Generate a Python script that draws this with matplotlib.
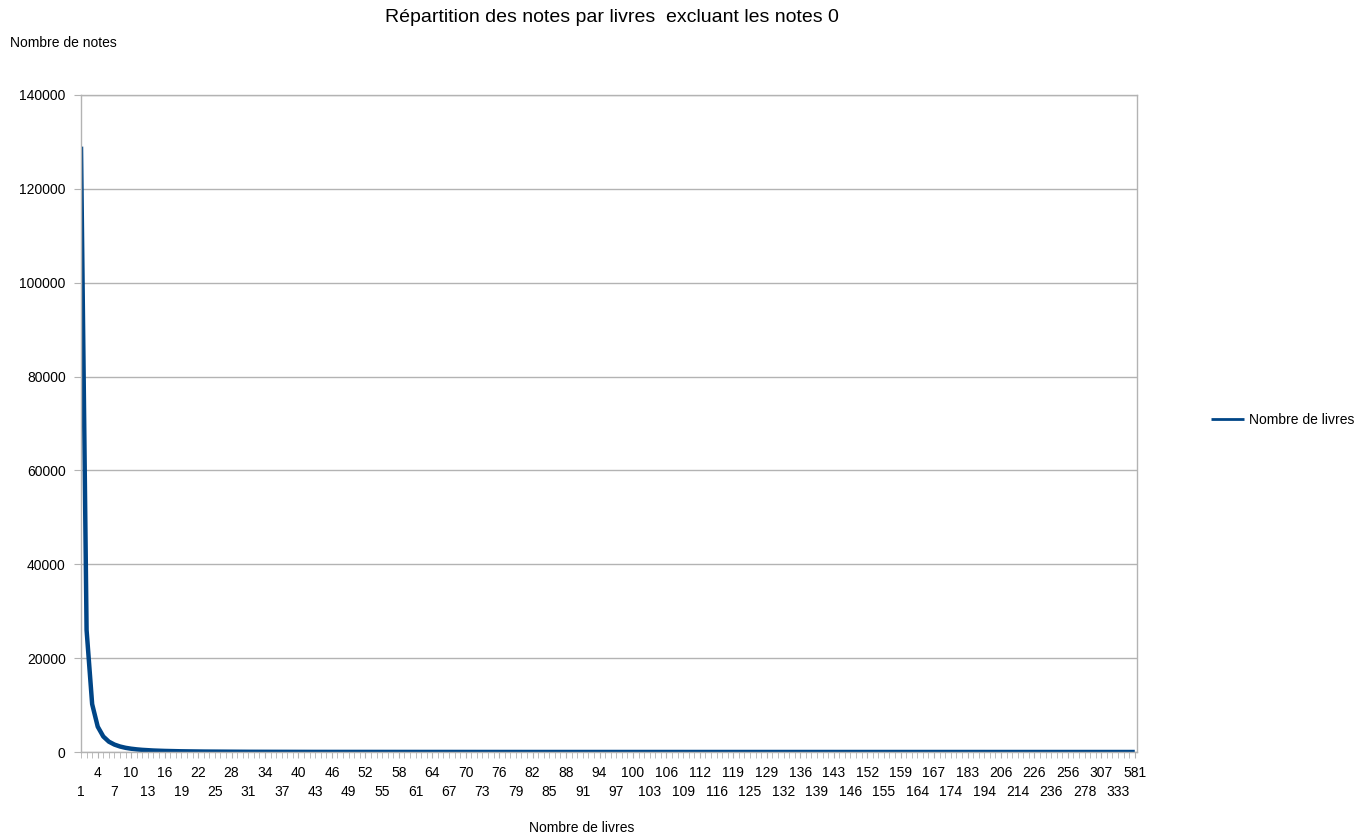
import matplotlib
matplotlib.use("Agg")
import matplotlib.pyplot as plt
from matplotlib.ticker import FixedLocator, FixedFormatter

plt.rcParams["font.family"] = ["Liberation Sans", "DejaVu Sans"]

# Catégories (nombre de livres) et valeurs (nombre de notes)
categories = list(range(1, 113)) + [
    113, 115, 116, 117, 118, 119, 121, 123, 125, 126, 128, 129, 130, 131, 132,
    133, 135, 136, 137, 138, 139, 140, 142, 143, 144, 145, 146, 148, 150, 152,
    153, 154, 155, 157, 158, 159, 161, 162, 164, 165, 166, 167, 170, 172, 174,
    177, 180, 183, 187, 190, 194, 198, 202, 206, 209, 211, 214, 218, 222, 226,
    229, 233, 236, 242, 249, 256, 263, 270, 278, 287, 296, 307, 315, 324, 333,
    372, 434, 581]

valeurs = [
    129000, 26000, 10200, 5400, 3300, 2200, 1580, 1170, 890, 700,
    560, 455, 375, 315, 268, 230, 198, 172, 151, 133,
    118, 105, 94, 85, 77, 70, 63, 58, 53, 49,
    45, 41, 38, 35, 33, 31, 29, 27, 25, 23,
    22, 21, 20, 19, 18, 17, 16, 15, 15, 14,
    13, 13, 12, 12, 11, 11, 10, 10, 9, 9,
    9, 8, 8, 8, 7, 7, 7, 7, 6, 6,
    6, 6, 6, 5, 5, 5, 5, 5, 4, 4,
    4, 4, 4, 4, 4, 3, 3, 3, 3, 3,
    3, 3, 3, 3, 3, 2, 3, 2, 2, 2,
    2, 2, 2, 2, 2, 2, 1, 2, 2, 1, 2, 1,
    2, 1, 2, 1, 1, 2, 1, 1, 1, 2, 1, 1, 1, 1, 2,
    1, 1, 1, 1, 1, 2, 1, 1, 1, 1, 1, 1, 1, 1, 1,
    1, 1, 1, 1, 1, 1, 1, 1, 1, 1, 1, 1, 1, 1, 1,
    1, 1, 1, 1, 1, 1, 1, 1, 1, 1, 1, 1, 1, 1, 1,
    1, 1, 1, 1, 1, 1, 1, 1, 1, 1, 1, 1, 1, 1, 1,
    1, 1, 1]

y_ticks = [0, 20000, 40000, 60000, 80000, 100000, 120000, 140000]

gris = "#b3b3b3"
bleu = "#004586"

fig = plt.figure(figsize=(13.68, 8.4), dpi=100)
ax = fig.add_axes([81 / 1368, 1 - 752 / 840, (1137 - 81) / 1368, (752 - 95) / 840])

positions = list(range(len(categories)))
ax.plot(positions, valeurs, color=bleu, linewidth=3.2, label="Nombre de livres",
        solid_joinstyle="round", solid_capstyle="butt")

ax.set_ylim(0, 140000)
ax.set_yticks(y_ticks)
ax.set_yticklabels([str(v) for v in y_ticks], fontsize=10)
ax.yaxis.grid(True, color=gris, linewidth=1)
ax.set_axisbelow(True)

ax.set_xlim(0, len(categories) - 0.6)

# rangée haute (4, 10, 16, ...) en ticks majeurs
haut = positions[3::6]
ax.xaxis.set_major_locator(FixedLocator(haut))
ax.xaxis.set_major_formatter(FixedFormatter([str(categories[i]) for i in haut]))
# rangée basse (1, 7, 13, ...) en ticks mineurs, un tick par catégorie
bas = set(positions[0::6])
mineurs = [i for i in positions if i not in haut]
ax.xaxis.set_minor_locator(FixedLocator(mineurs))
ax.xaxis.set_minor_formatter(FixedFormatter(
    [str(categories[i]) if i in bas else "" for i in mineurs]))

ax.tick_params(axis="x", which="both", length=4, color=gris, labelsize=10)
ax.tick_params(axis="x", which="major", pad=6)
ax.tick_params(axis="x", which="minor", pad=20)
ax.tick_params(axis="y", length=5, color=gris, pad=6)

for s in ax.spines.values():
    s.set_color(gris)
    s.set_linewidth(1)

fig.text(612 / 1368, 1 - 18 / 840, "Répartition des notes par livres  excluant les notes 0",
         ha="center", va="center", fontsize=14)
fig.text(10 / 1368, 1 - 43 / 840, "Nombre de notes", ha="left", va="center", fontsize=10)
fig.text(582 / 1368, 1 - 828 / 840, "Nombre de livres", ha="center", va="center", fontsize=10)

leg = fig.legend(loc="center left", bbox_to_anchor=(1198 / 1368, 1 - 420 / 840), frameon=False,
                 fontsize=10, handlelength=2.4, handletextpad=0.4)
for h in leg.get_lines():
    h.set_linewidth(2)

fig.savefig("out.png", dpi=100, facecolor="white")
